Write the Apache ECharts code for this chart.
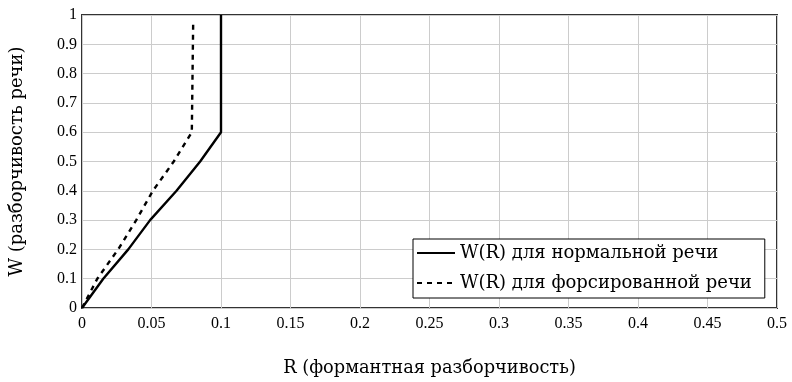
<!DOCTYPE html>
<html>
<head>
<meta charset="utf-8">
<script src="https://cdn.jsdelivr.net/npm/echarts@6/dist/echarts.min.js"></script>
<style>
  html, body { margin: 0; padding: 0; background: #fff; }
  #chart { width: 792px; height: 382px; }
</style>
</head>
<body>
<div id="chart"></div>
<script>
// W(R) curves: intelligibility vs formant intelligibility
const normalR = [0, 0.0153, 0.0333, 0.049, 0.068, 0.085, 0.1, 0.1];
const normalW = [0, 0.1, 0.2, 0.3, 0.4, 0.5, 0.6, 1.0];
const forcedR = [0, 0.011, 0.026, 0.039, 0.051, 0.066, 0.079, 0.08];
const forcedW = [0, 0.1, 0.2, 0.3, 0.4, 0.5, 0.6, 0.98];

const seriesNames = ['W(R) для нормальной речи', 'W(R) для форсированной речи'];
const xTickLabels = ['0', '0.05', '0.1', '0.15', '0.2', '0.25', '0.3', '0.35', '0.4', '0.45', '0.5'];
const yTickLabels = ['0', '0.1', '0.2', '0.3', '0.4', '0.5', '0.6', '0.7', '0.8', '0.9', '1'];
const xAxisTitle = 'R (формантная разборчивость)';
const yAxisTitle = 'W (разборчивость речи)';

const TICK_FONT = '"Liberation Serif", serif';
const TEXT_FONT = '"DejaVu Serif", serif';
const pairs = (xs, ys) => xs.map((x, i) => [x, ys[i]]);

const chart = echarts.init(document.getElementById('chart'), null, { renderer: 'canvas' });
chart.setOption({
  animation: false,
  backgroundColor: '#fff',
  grid: {
    left: 82, right: 15, top: 15, bottom: 72,
    show: true, borderColor: '#333', borderWidth: 2, backgroundColor: 'transparent'
  },
  legend: {
    orient: 'vertical',
    left: 413, top: 239,
    padding: [4, 13, 5, 3],
    itemWidth: 38, itemHeight: 14, itemGap: 10,
    backgroundColor: '#fff',
    borderColor: '#000', borderWidth: 1, borderRadius: 0,
    itemStyle: { opacity: 0 },
    textStyle: { fontFamily: TEXT_FONT, fontSize: 18, color: '#000', lineHeight: 20 },
    data: seriesNames
  },
  xAxis: {
    type: 'value', min: 0, max: 0.5, interval: 0.05,
    name: xAxisTitle, nameLocation: 'middle', nameGap: 51,
    nameTextStyle: { fontFamily: TEXT_FONT, fontSize: 17.8, color: '#000' },
    axisLine: { show: false },
    axisTick: { show: false },
    axisLabel: {
      margin: 8, fontFamily: TICK_FONT, fontSize: 16, color: '#000',
      formatter: v => xTickLabels[Math.round(v / 0.05)]
    },
    splitLine: { show: true, lineStyle: { color: '#cccccc', width: 1 } }
  },
  yAxis: {
    type: 'value', min: 0, max: 1, interval: 0.1,
    name: yAxisTitle, nameLocation: 'middle', nameGap: 56,
    nameTextStyle: { fontFamily: TEXT_FONT, fontSize: 18, color: '#000' },
    axisLine: { show: false },
    axisTick: { show: false },
    axisLabel: {
      margin: 5, fontFamily: TICK_FONT, fontSize: 16, color: '#000',
      formatter: v => yTickLabels[Math.round(v / 0.1)]
    },
    splitLine: { show: true, lineStyle: { color: '#cccccc', width: 1 } }
  },
  series: [
    {
      name: seriesNames[0], type: 'line', symbol: 'none',
      data: pairs(normalR, normalW),
      lineStyle: { color: '#000', width: 2.4, type: 'solid' },
      itemStyle: { color: '#000' }
    },
    {
      name: seriesNames[1], type: 'line', symbol: 'none',
      data: pairs(forcedR, forcedW),
      lineStyle: { color: '#000', width: 2.4, type: [5, 5] },
      itemStyle: { color: '#000' }
    }
  ]
});
</script>
</body>
</html>
